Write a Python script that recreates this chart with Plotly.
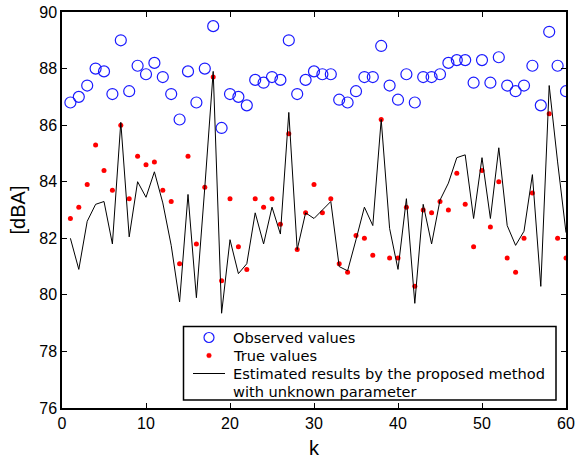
import plotly.graph_objects as go

k = list(range(1, 61))

observed = [86.8, 87.0, 87.4, 88.0, 87.9, 87.1, 89.0, 87.2, 88.1, 87.8,
            88.2, 87.7, 87.1, 86.2, 87.9, 86.8, 88.0, 89.5, 85.9, 87.1,
            87.0, 86.7, 87.6, 87.5, 87.7, 87.6, 89.0, 87.1, 87.6, 87.9,
            87.8, 87.8, 86.9, 86.8, 87.2, 87.7, 87.7, 88.8, 87.4, 86.9,
            87.8, 86.8, 87.7, 87.7, 87.8, 88.2, 88.3, 88.3, 87.5, 88.3,
            87.5, 88.4, 87.4, 87.2, 87.4, 88.1, 86.7, 89.3, 88.1, 87.2]

true_vals = [82.7, 83.1, 83.9, 85.3, 84.4, 83.7, 86.0, 83.4, 84.9, 84.6,
             84.7, 83.7, 83.3, 81.1, 84.9, 81.8, 83.8, 87.7, 80.5, 83.4,
             81.7, 80.9, 83.4, 83.1, 83.4, 82.5, 85.7, 81.6, 82.9, 83.9,
             82.9, 83.4, 81.1, 80.8, 82.1, 82.0, 81.4, 86.2, 81.3, 81.3,
             83.1, 80.3, 83.0, 82.9, 83.3, 83.0, 84.3, 83.2, 81.7, 84.4,
             82.4, 84.0, 81.3, 80.8, 82.0, 83.6, None, 86.4, 82.0, 81.3]

estimated = [82.0, 80.9, 82.6, 83.2, 83.3, 81.8, 86.1, 82.05, 84.0, 83.45,
             84.35, 83.25, 81.75, 79.75, 83.55, 79.9, 83.8, 87.9, 79.35, 81.95,
             80.75, 81.1, 82.9, 81.8, 83.1, 82.15, 86.45, 81.6, 82.9, 82.7,
             83.0, 83.3, 81.0, 80.85, 81.95, 83.1, 82.45, 86.2, 82.35, 80.9,
             83.4, 79.7, 83.2, 81.8, 83.35, 83.95, 84.85, 84.95, 82.7, 84.85,
             82.7, 85.2, 82.45, 81.75, 82.25, 84.25, 80.3, 87.4, 84.7, 82.2]

x_ticks = [0, 10, 20, 30, 40, 50, 60]
y_ticks = [76, 78, 80, 82, 84, 86, 88, 90]

legend_labels = ["Observed values", "True values",
                 "Estimated results by the proposed method", "with unknown parameter"]

BLUE = "#1a1aff"
RED = "#ff0000"

fig = go.Figure()
fig.add_trace(go.Scatter(
    x=k, y=observed, mode="markers", name="Observed values",
    marker=dict(symbol="circle-open", size=11, color=BLUE, line=dict(width=1.2, color=BLUE)),
))
fig.add_trace(go.Scatter(
    x=k, y=true_vals, mode="markers", name="True values",
    marker=dict(symbol="circle", size=5, color=RED),
))
fig.add_trace(go.Scatter(
    x=k, y=estimated, mode="lines",
    name="Estimated results by the proposed method with unknown parameter",
    line=dict(color="black", width=1),
))

axis_common = dict(
    showline=True, linecolor="black", linewidth=1.5, mirror="ticks",
    ticks="inside", ticklen=5, tickwidth=1, tickcolor="black",
    showgrid=False, zeroline=False, automargin=False,
    tickfont=dict(family="Liberation Sans, Arial", size=16, color="black"),
)

fig.update_xaxes(range=[0, 60], tickvals=x_ticks,
                 title=dict(text="k", font=dict(family="Liberation Sans, Arial", size=20, color="black"), standoff=10),
                 **axis_common)
fig.update_yaxes(range=[76, 90], tickvals=y_ticks,
                 title=dict(text="[dBA]", font=dict(family="Liberation Sans, Arial", size=20, color="black"), standoff=8),
                 **axis_common)

# ---- legend box drawn in paper coordinates (layout decoration) ----
W, H = 579, 461
ML, MR, MT, MB = 62, 13, 12, 53
pw = W - ML - MR
ph = H - MT - MB


def px_x(p):
    return (p - ML) / pw


def px_y(p):
    return (H - MB - p) / ph


box_l, box_r, box_t, box_b = 183.5, 556, 326.5, 400
row_y = [337.5, 355.5, 373.5, 391.5]
sym_x = 209
text_x = 232

shapes = [
    dict(type="rect", xref="paper", yref="paper", layer="above",
         x0=px_x(box_l), x1=px_x(box_r), y0=px_y(box_b), y1=px_y(box_t),
         fillcolor="white", line=dict(color="black", width=1.5)),
    dict(type="circle", xref="paper", yref="paper", layer="above",
         x0=px_x(sym_x - 5), x1=px_x(sym_x + 5), y0=px_y(row_y[0] + 5), y1=px_y(row_y[0] - 5),
         line=dict(color=BLUE, width=1.2)),
    dict(type="circle", xref="paper", yref="paper", layer="above",
         x0=px_x(sym_x - 2.3), x1=px_x(sym_x + 2.3), y0=px_y(row_y[1] + 2.3), y1=px_y(row_y[1] - 2.3),
         fillcolor=RED, line=dict(color=RED, width=0.5)),
    dict(type="line", xref="paper", yref="paper", layer="above",
         x0=px_x(193), x1=px_x(225), y0=px_y(row_y[2]), y1=px_y(row_y[2]),
         line=dict(color="black", width=1)),
]

annotations = [
    dict(xref="paper", yref="paper", x=px_x(text_x), y=px_y(yy), text=lab,
         xanchor="left", yanchor="middle", showarrow=False, borderpad=0,
         font=dict(family="DejaVu Sans", size=14.6, color="black"))
    for lab, yy in zip(legend_labels, row_y)
]

fig.update_layout(
    width=W, height=H,
    margin=dict(l=ML, r=MR, t=MT, b=MB),
    plot_bgcolor="white", paper_bgcolor="white",
    showlegend=False,
    shapes=shapes,
    annotations=annotations,
)

fig.write_html("out.html")
